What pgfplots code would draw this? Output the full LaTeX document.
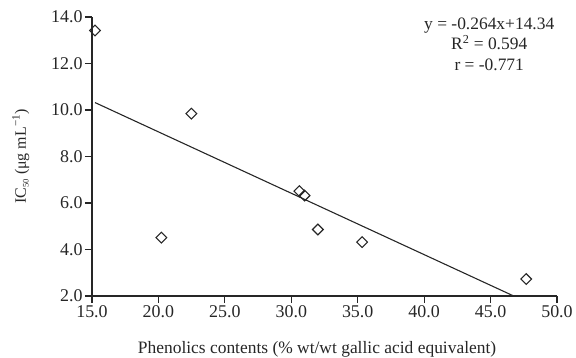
\documentclass[border=0pt]{standalone}
\usepackage{fontspec}
\setmainfont{Liberation Serif}
\usepackage{pgfplots}
\pgfplotsset{compat=1.18}
\begin{document}
\begin{tikzpicture}
\begin{axis}[
  at={(0,0)}, anchor=south west,
  scale only axis, width=465bp, height=279bp,
  xmin=15, xmax=50, ymin=2, ymax=14,
  axis x line*=bottom, axis y line*=left,
  axis line style={line width=1.1pt, black!85},
  xtick={15,20,...,50}, ytick={2,4,...,14},
  tick style={line width=1.1pt, black!85},
  tick align=outside, major tick length=7bp,
  /pgf/number format/assume math mode=true,
  /pgf/number format/.cd, fixed, fixed zerofill, precision=1, /pgfplots/.cd,
  ticklabel style={font=\fontsize{18}{20}\selectfont, black!85},
  xticklabel style={yshift=1bp},
  yticklabel style={xshift=1bp},
  xlabel={\fontsize{17.5}{20}\selectfont Phenolics contents (\% wt/wt gallic acid equivalent)},
  ylabel={\fontsize{16}{19}\selectfont IC\textsubscript{\fontsize{8.5}{9}\selectfont 50} (μg mL\textsuperscript{−1})},
  xlabel style={black!85, at={(axis description cs:0.484,0)}, anchor=base, yshift=-57bp},
  ylabel style={black!85, at={(axis description cs:-0.142,0.5)}, anchor=base},
  clip=false,
]
\addplot[only marks, mark=square, mark size=3.8bp, mark options={rotate=45, line width=1.1pt, black!85, fill=white}]
coordinates {
(15.23,13.42) (22.48,9.84) (20.22,4.51) (30.61,6.51) (31.0,6.32) (32.0,4.86) (35.33,4.32) (47.68,2.73)
};
\addplot[line width=1.1pt, black!85] coordinates {(15.23,10.319) (46.74,2.0)};
\node[font=\fontsize{17.5}{20}\selectfont, black!85, anchor=base] at (axis cs:44.9,13.45) {y = -0.264x+14.34};
\node[font=\fontsize{17.5}{20}\selectfont, black!85, anchor=base] at (axis cs:44.9,12.59) {R\textsuperscript{2} = 0.594};
\node[font=\fontsize{17.5}{20}\selectfont, black!85, anchor=base] at (axis cs:44.9,11.68) {r = -0.771};
\end{axis}
\pgfresetboundingbox
\useasboundingbox (-92bp,-62bp) rectangle (484bp,296bp);
\end{tikzpicture}
\end{document}
